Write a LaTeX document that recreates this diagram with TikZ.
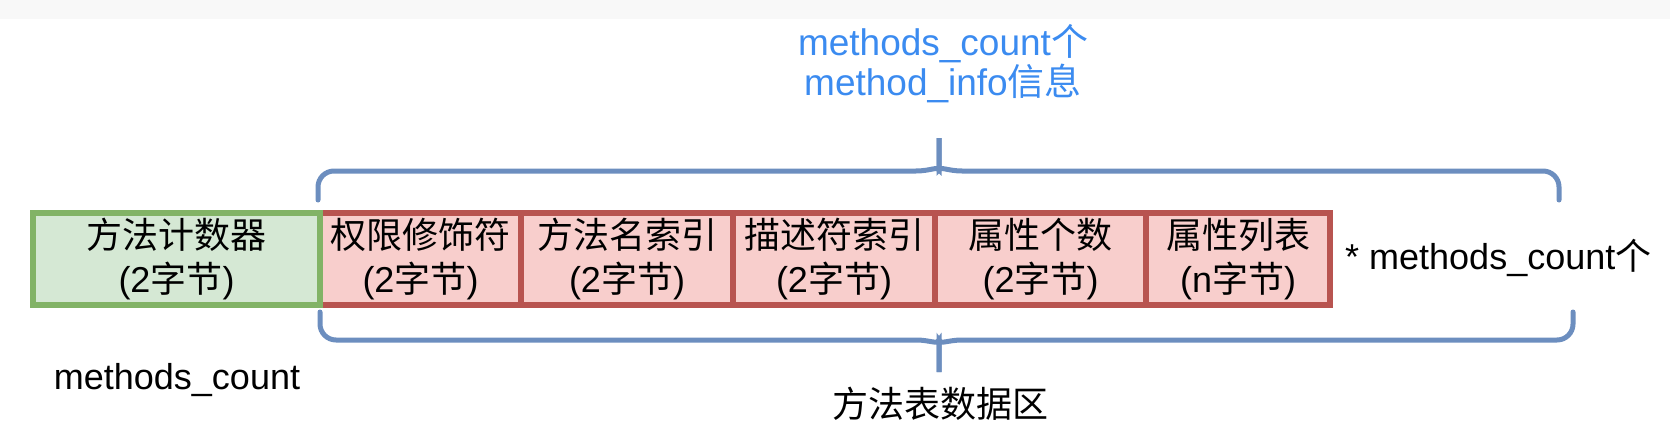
\documentclass[tikz,border=0pt]{standalone}
\usepackage{fontspec}
\setmainfont{Liberation Sans}
\newfontfamily\cjk{Noto Sans CJK SC}
\usetikzlibrary{positioning}

\definecolor{cntline}{HTML}{82B366}
\definecolor{cntfill}{HTML}{D5E8D4}
\definecolor{fldline}{HTML}{B85450}
\definecolor{fldfill}{HTML}{F8CECC}
\definecolor{braceline}{HTML}{6C8EBF}
\definecolor{notetext}{HTML}{3B8BF0}
\definecolor{topstrip}{HTML}{F8F8F8}

\tikzset{
  field/.style={draw=fldline, fill=fldfill, line width=5.5pt, minimum height=92pt,
    inner sep=0pt, align=center, font=\fontsize{36}{44}\selectfont},
  counter/.style={field, draw=cntline, fill=cntfill},
  brace/.style={draw=braceline, line width=5pt, line cap=round},
  plaintext/.style={inner sep=0pt, align=center, font=\fontsize{36}{44}\selectfont}
}

\begin{document}
\begin{tikzpicture}[x=1pt,y=-1pt]
    \useasboundingbox (0,0) rectangle (1670,444);
    \fill[topstrip] (0,0) rectangle (1670,19);

    % method_info fields
    \node[field, minimum width=201pt] (acc)   at (420.5,259) {{\cjk 权限修饰符}\\(2{\cjk 字节})};
    \node[field, minimum width=212pt] (name)  at (627,259)   {{\cjk 方法名索引}\\(2{\cjk 字节})};
    \node[field, minimum width=202pt] (desc)  at (834,259)   {{\cjk 描述符索引}\\(2{\cjk 字节})};
    \node[field, minimum width=211pt] (attrn) at (1040.5,259) {{\cjk 属性个数}\\(2{\cjk 字节})};
    \node[field, minimum width=184pt] (attrs) at (1238,259)  {{\cjk 属性列表}\\(n{\cjk 字节})};
    \node[counter, minimum width=287pt] (cnt) at (176.5,259) {{\cjk 方法计数器}\\(2{\cjk 字节})};

    \node[plaintext, anchor=west] (times) at (1345,258) {* methods\_count{\cjk 个}};
    \node[plaintext] (cntname) at (177,380) {methods\_count};

    % upper brace
    \coordinate (ul) at (318,200);
    \coordinate (ur) at (1559,200);
    \coordinate (utip) at (939,148);
    \draw[brace, rounded corners=16pt] (ul) -- (318,171) -- (900,171)
        .. controls (930,171) and (939,166) .. (939,154) -- (utip);
    \draw[brace, rounded corners=16pt] (ur) -- (1559,171) -- (978,171)
        .. controls (948,171) and (939,166) .. (939,154) -- (utip);
    \node[plaintext, text=notetext, font=\fontsize{37}{38}\selectfont] (info) at (943,64)
        {methods\_count{\cjk 个}\\method\_info{\cjk 信息}};

    % lower brace
    \coordinate (ll) at (320,312);
    \coordinate (lr) at (1573,312);
    \coordinate (ltip) at (939,361);
    \draw[brace, rounded corners=16pt] (ll) -- (320,340) -- (900,340)
        .. controls (930,340) and (939,345) .. (939,356) -- (ltip);
    \draw[brace, rounded corners=16pt] (lr) -- (1573,340) -- (978,340)
        .. controls (948,340) and (939,345) .. (939,356) -- (ltip);
    \node[plaintext] (area) at (940,404) {{\cjk 方法表数据区}};
\end{tikzpicture}
\end{document}
